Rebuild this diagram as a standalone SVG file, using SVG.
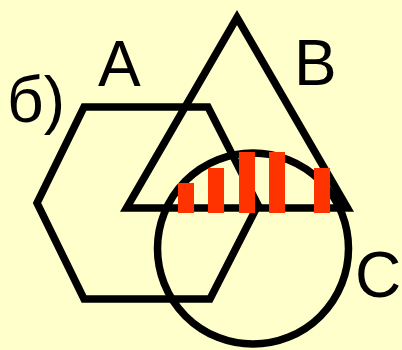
<svg xmlns="http://www.w3.org/2000/svg" width="402" height="350" viewBox="0 0 402 350">
<style>
.sh{fill:none;stroke:#000;stroke-width:7.5;stroke-linejoin:miter;stroke-miterlimit:10}
.bar{fill:#FF3300}
.t{font-family:"Liberation Sans",Arial,sans-serif;font-size:64px;fill:#000}
</style>
<rect width="402" height="350" fill="#FFFFCC"/>
<g id="A"><polygon class="sh" points="84,107 208,107 258,205 210,299 84,299 37,203"/></g>
<g id="B"><polygon class="sh" points="237,17.5 126.5,208 347.5,208"/></g>
<g id="C"><circle class="sh" cx="253" cy="248.5" r="95.5"/></g>
<g id="hatch">
<rect class="bar" x="178" y="183" width="16" height="30"/>
<rect class="bar" x="208" y="168" width="16" height="45"/>
<rect class="bar" x="239" y="152" width="16" height="61"/>
<rect class="bar" x="269" y="152" width="16" height="61"/>
<rect class="bar" x="314" y="168" width="16" height="45"/>
</g>
<g id="labels">
<text class="t" x="7" y="122">б)</text>
<text class="t" x="98" y="86">A</text>
<text class="t" x="294" y="85">B</text>
<text class="t" x="355" y="297">C</text>
</g>
</svg>
